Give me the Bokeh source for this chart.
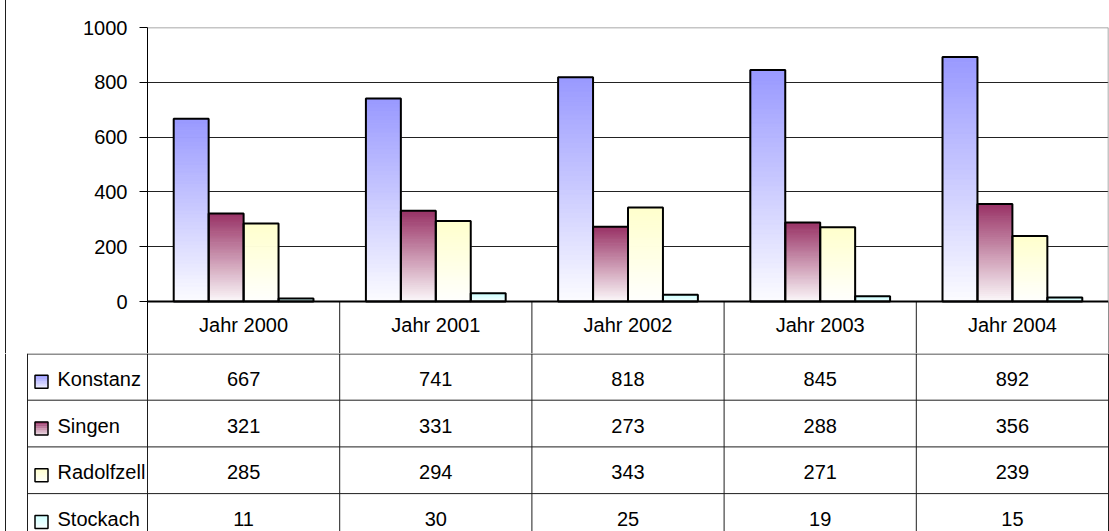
from bokeh.plotting import figure
from bokeh.models import Range1d, FixedTicker, ColumnDataSource
from bokeh.embed import file_html
from bokeh.resources import INLINE
from bokeh.core.properties import value

# ---------------- data ----------------
years = ["Jahr 2000", "Jahr 2001", "Jahr 2002", "Jahr 2003", "Jahr 2004"]
cities = ["Konstanz", "Singen", "Radolfzell", "Stockach"]
konstanz = [667, 741, 818, 845, 892]
singen = [321, 331, 273, 288, 356]
radolfzell = [285, 294, 343, 271, 239]
stockach = [11, 30, 25, 19, 15]
colors = ["#9999ff", "#993366", "#ffffcc", "#ccffff"]
y_ticks = [0, 200, 400, 600, 800, 1000]
grid_ticks = [200, 400, 600, 800]
y_max = 1000

series = [konstanz, singen, radolfzell, stockach]

# ---------------- layout constants ----------------
FONT = "Liberation Sans"
FS = "20px"
W = 1109
LEFT = 147
RIGHT = 1
TOP = 27
PLOT_H = 274
HEADER_H = 52
H1 = TOP + PLOT_H + HEADER_H
H2 = 531 - H1
ROW_H = 46.7
NCAT = len(years)
COLW = (W - LEFT - RIGHT) / NCAT
PX = PLOT_H / y_max            # px per data unit in the chart
GAP = 1.5
BW = 1.0 / (len(cities) + GAP)
NSEG = 48
LEG_PX = 120                   # legend column width in px
BORDER_X = 5                   # outer chart border, px from the left edge
LC = "#1e1e1e"


def mix(hexc, t):
    hexc = hexc.lstrip("#")
    r, g, b = (int(hexc[i:i + 2], 16) for i in (0, 2, 4))
    r = round(r + (255 - r) * t)
    g = round(g + (255 - g) * t)
    b = round(b + (255 - b) * t)
    return "#%02x%02x%02x" % (r, g, b)


# ---------------- chart (with header row of the data table) ----------------
y_low = -HEADER_H / PX
p = figure(width=W, height=H1, x_range=Range1d(0, NCAT), y_range=Range1d(y_low, y_max),
           x_axis_location=None, toolbar_location=None, output_backend="svg",
           min_border_left=LEFT, min_border_right=RIGHT, min_border_top=TOP,
           min_border_bottom=0, title=None)
p.background_fill_color = "white"
p.border_fill_color = None
p.outline_line_color = None
# outer chart border at the far left (drawn by the page element itself)
p.styles = {"box-shadow": "inset %dpx 0 0 0 #ffffff, inset %dpx 0 0 0 %s"
            % (BORDER_X, BORDER_X + 1, LC),
            "background-color": "#ffffff"}
p.xgrid.visible = False
p.ygrid.ticker = FixedTicker(ticks=grid_ticks)
p.ygrid.grid_line_color = "#222222"
p.ygrid.grid_line_width = 1

ax = p.yaxis[0]
ax.ticker = FixedTicker(ticks=y_ticks)
ax.major_tick_out = 8
ax.major_tick_in = 0
ax.minor_tick_line_color = None
ax.axis_line_color = "black"
ax.axis_line_width = 1
ax.major_tick_line_color = "black"
ax.major_label_text_font = FONT
ax.major_label_text_font_size = FS
ax.major_label_text_color = "black"
ax.major_label_standoff = 12

# gray plot-area border (top and right)
p.segment(x0=[0, NCAT], y0=[y_max, 0], x1=[NCAT, NCAT], y1=[y_max, y_max],
          line_color="#8c8c8c", line_width=1.5)

seg = dict(x=[], bottom=[], top=[], color=[])
outl = dict(x=[], top=[])
for j, vals in enumerate(series):
    for i, v in enumerate(vals):
        xc = i + 0.5 + (j - (len(cities) - 1) / 2) * BW
        for k in range(NSEG):
            frac = 1 - (k + 0.5) / NSEG
            seg["x"].append(xc)
            seg["bottom"].append(v * k / NSEG)
            seg["top"].append(v * (k + 1) / NSEG)
            seg["color"].append(mix(colors[j], frac * 0.97))
        outl["x"].append(xc)
        outl["top"].append(v)

p.vbar(x="x", bottom="bottom", top="top", width=BW, fill_color="color",
       line_color="color", line_width=1, source=ColumnDataSource(seg))
p.vbar(x="x", bottom=0, top="top", width=BW, fill_color=None,
       line_color="black", line_width=2, source=ColumnDataSource(outl))

# header row: column separators, baseline, labels
p.segment(x0=list(range(1, NCAT + 1)), y0=[0] * NCAT, x1=list(range(1, NCAT + 1)),
          y1=[y_low] * NCAT, line_color=LC, line_width=1)
p.segment(x0=[0], y0=[0], x1=[NCAT], y1=[0], line_color="black", line_width=2)
p.text(x=[i + 0.5 for i in range(NCAT)], y=[-(HEADER_H / 2 - 3) / PX] * NCAT, text=years,
       text_font=value(FONT), text_font_size=FS, text_align="center",
       text_baseline="middle", text_color="black")

# ---------------- data rows of the table ----------------
x_left = -LEFT / COLW
x_right = NCAT + RIGHT / COLW
x_tab = -LEG_PX / COLW
t = figure(width=W, height=H2, x_range=Range1d(x_left, x_right),
           y_range=Range1d(H2, 0),
           x_axis_location=None, y_axis_location=None, toolbar_location=None,
           output_backend="svg", min_border=0, title=None)
t.outline_line_color = None
t.grid.visible = False
t.background_fill_color = "white"
t.border_fill_color = "white"

nrow = len(cities)
bottom_y = ROW_H * nrow
# vertical lines
vxs = [x_tab] + list(range(NCAT + 1))
t.segment(x0=vxs, y0=[0] * len(vxs), x1=vxs, y1=[bottom_y] * len(vxs),
          line_color=LC, line_width=1)
# horizontal lines
row_edges = [0.5] + [ROW_H * r for r in range(1, nrow)]
t.segment(x0=[x_tab] * len(row_edges), y0=row_edges, x1=[NCAT] * len(row_edges),
          y1=row_edges, line_color=LC, line_width=1)

# values
vx, vy, vt = [], [], []
for r, vals in enumerate(series):
    for i, v in enumerate(vals):
        vx.append(i + 0.5)
        vy.append(ROW_H * (r + 0.5) + 2)
        vt.append(str(v))
t.text(x=vx, y=vy, text=vt, text_font=value(FONT), text_font_size=FS,
       text_align="center", text_baseline="middle", text_color="black")

# legend labels
t.text(x=[x_tab + 30 / COLW] * nrow,
       y=[ROW_H * (r + 0.5) + 2 for r in range(nrow)],
       text=cities, text_font=value(FONT), text_font_size=FS, text_align="left",
       text_baseline="middle", text_color="black")

# legend keys (small gradient squares)
KEY = 13
KSEG = 6
kx = x_tab + 14 / COLW
ks = dict(x=[], y=[], color=[])
for r in range(nrow):
    yc = ROW_H * (r + 0.5) + 5
    for k in range(KSEG):
        ks["x"].append(kx)
        ks["y"].append(yc - KEY / 2 + KEY * (k + 0.5) / KSEG)
        ks["color"].append(mix(colors[r], 0.85 * (k + 0.5) / KSEG))
t.rect(x="x", y="y", width=KEY, height=KEY / KSEG, width_units="screen",
       fill_color="color", line_color="color", line_width=0.5,
       source=ColumnDataSource(ks))
t.rect(x=[kx] * nrow, y=[ROW_H * (r + 0.5) + 5 for r in range(nrow)],
       width=KEY, height=KEY, width_units="screen", fill_color=None,
       line_color="black", line_width=1.5)

# outer chart border on the far left
t.segment(x0=[-(LEFT - BORDER_X) / COLW], y0=[0], x1=[-(LEFT - BORDER_X) / COLW], y1=[H2],
          line_color=LC, line_width=1)

open("out.html", "w").write(file_html([p, t], INLINE))
